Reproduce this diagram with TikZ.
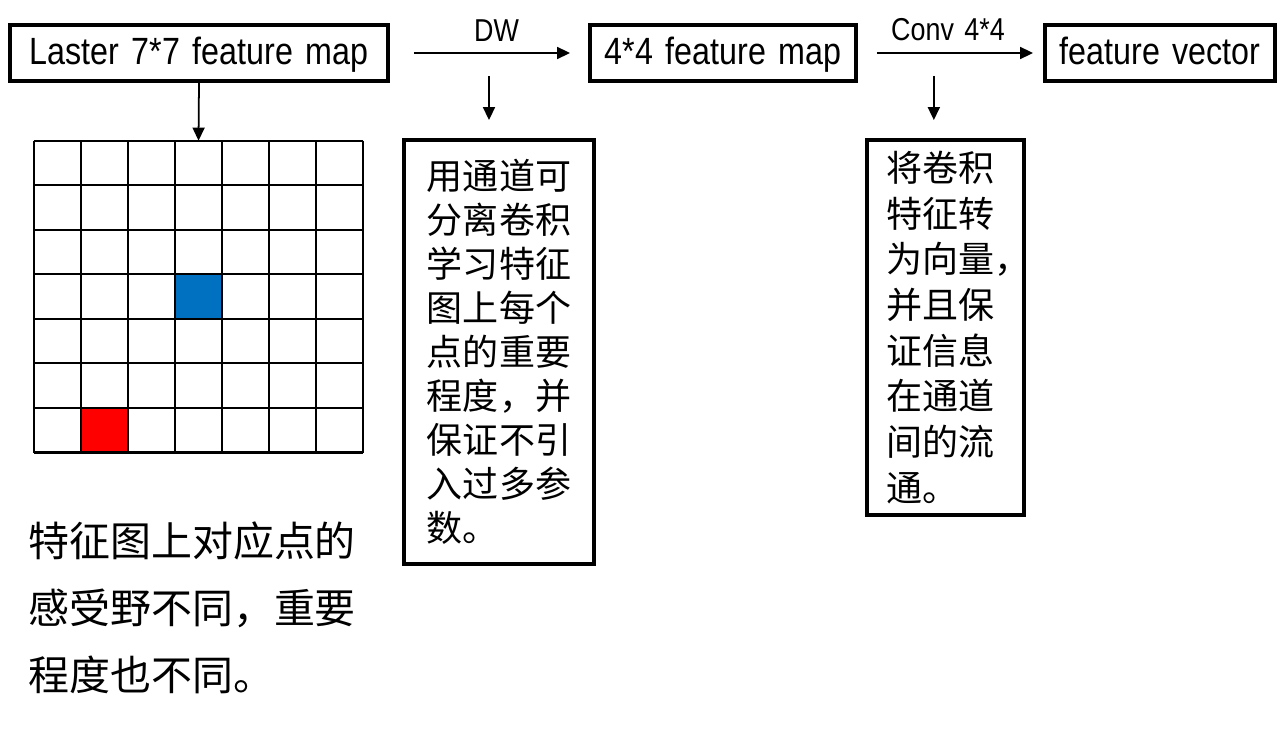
\documentclass[tikz,border=0pt]{standalone}
\usepackage{fontspec}
\setmainfont{Liberation Sans}[FakeStretch=0.85,WordSpace=1.4]
\newfontfamily\cjk{Noto Sans CJK SC}
\usetikzlibrary{arrows.meta,calc,positioning}

\begin{document}
\begin{tikzpicture}
		\tikzset{
		    mapbox/.style={rectangle,draw,line width=2.2pt,inner sep=0pt,minimum height=1.12cm,text height=0.6cm,text depth=0.12cm,font=\fontsize{21.6}{24}\selectfont},
		    notebox/.style={rectangle,draw,line width=2.2pt,inner sep=0pt,align=left},
		    flow/.style={-{Triangle[length=2.6mm,width=2.4mm]},line width=1pt},
		    oplabel/.style={midway,above=2.2mm,inner sep=0pt,font=\fontsize{18}{20}\selectfont}
		}
		\useasboundingbox (0,0) rectangle (25.6,-14.58);

		% vertices
		\node[mapbox,minimum width=7.56cm] (lmap) at (3.98,-1.06) {Laster 7*7 feature map};
		\node[mapbox,minimum width=5.32cm] (smap) at (14.46,-1.06) {4*4 feature map};
		\node[mapbox,minimum width=4.6cm] (fvec) at (23.2,-1.06) {feature vector};

		\node[rectangle,inner sep=0pt,minimum width=6.58cm,minimum height=6.24cm] (grid) at (3.97,-5.94) {};
		\fill[fill={rgb,255:red,0;green,112;blue,192}] ($(grid.north west)+(3*0.94,-3*0.891)$) rectangle ++(0.94,-0.891);
		\fill[red] ($(grid.north west)+(1*0.94,-6*0.891)$) rectangle ++(0.94,-0.891);
		\foreach \i in {0,...,7}{
		    \draw[line width=1.2pt] ($(grid.north west)+(\i*0.94,0)$) -- ++(0,-6.24);
		    \draw[line width=1.2pt] ($(grid.north west)+(0,-\i*0.891)$) -- ++(6.58,0);
		}

		\node[notebox,minimum width=3.8cm,minimum height=8.48cm,font=\cjk\fontsize{20.5}{25}\selectfont] (note1) at (9.98,-7.04)
		    {用通道可\\分离卷积\\学习特征\\图上每个\\点的重要\\程度，并\\保证不引\\入过多参\\数。};
		\node[notebox,minimum width=3.14cm,minimum height=7.5cm,text width=2.38cm,font=\cjk\fontsize{20.5}{26}\selectfont] (note2) at (18.91,-6.55)
		    {将卷积\\特征转\\为向量\rlap{，}\\并且保\\证信息\\在通道\\间的流\\通。};

		\node[anchor=west,align=left,inner sep=0pt,font=\cjk\fontsize{23.3}{38}\selectfont] (caption) at (0.56,-12.16)
		    {特征图上对应点的\\感受野不同，重要\\程度也不同。};

		%edges
		\draw[flow,shorten <=0.48cm,shorten >=0.36cm] (lmap) -- (smap) node[oplabel,xshift=0.15cm] {DW} coordinate[midway] (dwdown);
		\draw[flow,shorten <=0.38cm,shorten >=0.2cm] (smap) -- (fvec) node[oplabel,xshift=-0.05cm] {Conv 4*4} coordinate[pos=0.41] (convdown);
		\draw[flow] (lmap.south) -- (grid.north);
		\draw[flow,shorten <=0.46cm,shorten >=0.36cm] (dwdown) -- (dwdown |- note1.north);
		\draw[flow,shorten <=0.46cm,shorten >=0.36cm] (convdown) -- (convdown |- note2.north);

\end{tikzpicture}
\end{document}
